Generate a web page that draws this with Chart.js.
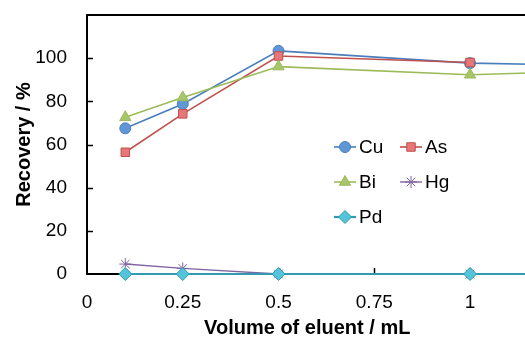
<!DOCTYPE html>
<html>
<head>
<meta charset="utf-8">
<script src="https://cdn.jsdelivr.net/npm/chart.js@4.4.0/dist/chart.umd.min.js"></script>
<style>
  html, body { margin: 0; padding: 0; background: #fff; overflow: hidden; }
  #wrap { width: 545px; height: 337px; }
</style>
</head>
<body>
<div id="wrap"><canvas id="recoveryChart" width="545" height="337"></canvas></div>
<script>
"use strict";
// volume of eluent (mL)
var volumes = [0.1, 0.25, 0.5, 1, 1.5];
// recovery (%)
var cuValues = [67.5, 78.8, 103.4, 97.7, 96.0];
var asValues = [56.4, 74.2, 101.0, 98.0, null];
var biValues = [72.6, 81.8, 96.1, 92.3, 95.0];
var hgValues = [4.6, 2.6, 0, 0, 0];
var pdValues = [0, 0, 0, 0, 0];
var seriesNames = ["Cu", "As", "Bi", "Hg", "Pd"];
// axis ticks
var xTicks = [0, 0.25, 0.5, 0.75, 1];
var yTicks = [0, 20, 40, 60, 80, 100];

var FONT = "'Liberation Sans', Arial, Helvetica, sans-serif";

function points(values) {
    return volumes.map(function (v, i) { return { x: v, y: values[i] }; });
}

function series(label, values, line, fill, style, radius, order, width) {
    return {
        label: label,
        data: points(values),
        borderColor: line,
        backgroundColor: fill,
        borderWidth: width,
        pointStyle: style,
        pointRadius: radius,
        pointBackgroundColor: fill,
        pointBorderColor: line,
        pointBorderWidth: 1,
        tension: 0,
        spanGaps: false,
        order: order,
        clip: false
    };
}

var datasets = [
    series(seriesNames[0], cuValues, "#4a7ebb", "#5f97d6", "circle", 5.5, 5, 1.6),
    series(seriesNames[1], asValues, "#c0504d", "#e8777a", "rect", 6, 4, 1.6),
    series(seriesNames[2], biValues, "#9bbb59", "#a5c66a", "triangle", 6.5, 3, 1.6),
    series(seriesNames[3], hgValues, "#8064a2", "#8064a2", "star", 6, 2, 1.4),
    series(seriesNames[4], pdValues, "#2f9ab0", "#55c3da", "rectRot", 6.5, 1, 2.2)
];

// frame + inward tick marks
var framePlugin = {
    id: "frame",
    beforeDatasetsDraw: function (chart) {
        var ctx = chart.ctx, a = chart.chartArea;
        ctx.save();
        ctx.strokeStyle = "#000";
        ctx.lineWidth = 2;
        ctx.strokeRect(a.left, a.top, a.right - a.left, a.bottom - a.top);
        ctx.lineWidth = 1.5;
        var ys = chart.scales.y;
        ys.ticks.forEach(function (t) {
            var p = Math.round(ys.getPixelForValue(t.value)) + 0.5;
            if (t.value === 0) return;
            ctx.beginPath(); ctx.moveTo(a.left, p); ctx.lineTo(a.left + 6, p); ctx.stroke();
        });
        var xs = chart.scales.x;
        xs.ticks.forEach(function (t) {
            var p = Math.round(xs.getPixelForValue(t.value)) + 0.5;
            if (t.value === 0) return;
            ctx.beginPath(); ctx.moveTo(p, a.bottom); ctx.lineTo(p, a.bottom - 6); ctx.stroke();
        });
        ctx.restore();
    }
};

// legend placed inside the plot, two columns
var legendPlugin = {
    id: "insideLegend",
    afterDatasetsDraw: function (chart) {
        var ctx = chart.ctx;
        var cols = [334, 400];
        var rows = [147, 182, 217];
        ctx.save();
        chart.data.datasets.forEach(function (ds, i) {
            var x = cols[i % 2], y = rows[Math.floor(i / 2)];
            ctx.strokeStyle = ds.borderColor;
            ctx.lineWidth = ds.borderWidth;
            ctx.beginPath(); ctx.moveTo(x, y); ctx.lineTo(x + 22, y); ctx.stroke();
            ctx.fillStyle = ds.pointBackgroundColor;
            ctx.strokeStyle = ds.pointBorderColor;
            ctx.lineWidth = 1;
            Chart.helpers.drawPoint(ctx, {
                pointStyle: ds.pointStyle,
                radius: ds.pointRadius,
                rotation: 0,
                borderWidth: 1
            }, x + 11, y);
            ctx.fillStyle = "#000";
            ctx.font = "19px " + FONT;
            ctx.textBaseline = "middle";
            ctx.textAlign = "left";
            ctx.fillText(ds.label, x + 25, y + 1);
        });
        ctx.restore();
    }
};

var chart = new Chart(document.getElementById("recoveryChart"), {
    type: "line",
    data: { datasets: datasets },
    options: {
        responsive: false,
        animation: false,
        devicePixelRatio: 1,
        layout: { padding: { top: 15, right: 17.5, left: 0, bottom: 0 } },
        plugins: {
            legend: { display: false },
            tooltip: { enabled: false }
        },
        scales: {
            x: {
                type: "linear",
                min: 0,
                max: 1.15,
                grid: { display: false, drawTicks: false },
                border: { display: false },
                afterBuildTicks: function (scale) {
                    scale.ticks = xTicks.map(function (v) { return { value: v }; });
                },
                ticks: {
                    padding: 17,
                    color: "#000",
                    font: { family: FONT, size: 19 },
                    maxRotation: 0,
                    autoSkip: false,
                    callback: function (v) { return String(v); }
                },
                title: {
                    display: true,
                    text: "Volume of eluent / mL",
                    color: "#000",
                    font: { family: FONT, size: 20, weight: "bold" },
                    padding: { top: 6, bottom: -3 }
                },
                afterFit: function (scale) {
                    scale.height = 63;
                    scale.paddingLeft = 0;
                    scale.paddingRight = 0;
                }
            },
            y: {
                min: 0,
                max: 120,
                grid: { display: false, drawTicks: false },
                border: { display: false },
                afterBuildTicks: function (scale) {
                    scale.ticks = yTicks.map(function (v) { return { value: v }; });
                },
                ticks: {
                    padding: 20,
                    color: "#000",
                    font: { family: FONT, size: 19 }
                },
                title: {
                    display: true,
                    text: "Recovery / %",
                    color: "#000",
                    font: { family: FONT, size: 20, weight: "bold" },
                    padding: { top: 12, bottom: 0 }
                },
                afterFit: function (scale) {
                    scale.width = 87;
                    scale.paddingTop = 0;
                    scale.paddingBottom = 0;
                }
            }
        }
    },
    plugins: [framePlugin, legendPlugin]
});
</script>
</body>
</html>
